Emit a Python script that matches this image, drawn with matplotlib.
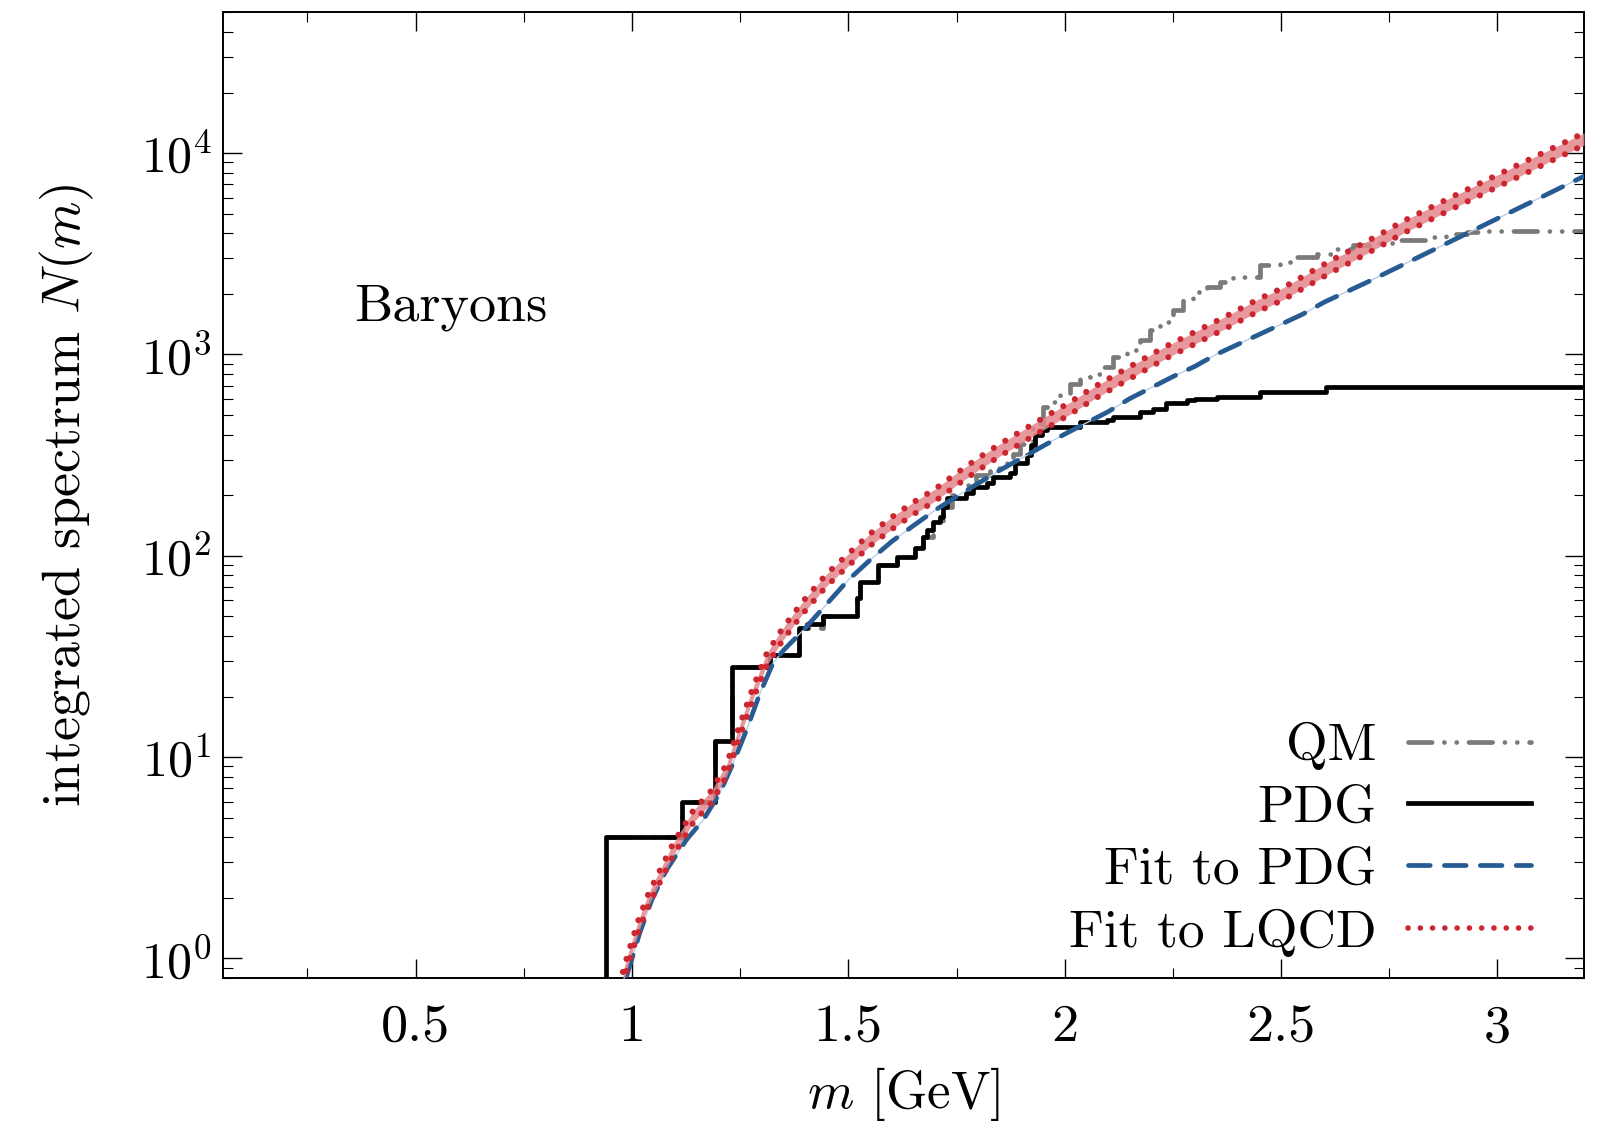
import numpy as np
import matplotlib
matplotlib.use('Agg')
import matplotlib.pyplot as plt
from matplotlib.lines import Line2D
from matplotlib.ticker import MultipleLocator, FuncFormatter

plt.rcParams['font.family'] = 'cmr10'
plt.rcParams['mathtext.fontset'] = 'cm'
plt.rcParams['axes.formatter.use_mathtext'] = True
plt.rcParams['axes.unicode_minus'] = False

# PDG baryon states: mass where each step starts, cumulative count after it
pdg_m = [0.939, 1.115, 1.193, 1.232, 1.318, 1.387, 1.405, 1.442, 1.519, 1.527,
         1.569, 1.612, 1.654, 1.673, 1.681, 1.696, 1.712, 1.719, 1.727, 1.773,
         1.789, 1.820, 1.835, 1.873, 1.885, 1.912, 1.923, 1.931, 1.947, 1.958,
         2.035, 2.097, 2.112, 2.174, 2.205, 2.235, 2.282, 2.300, 2.351, 2.451,
         2.605]
pdg_N = [4, 6, 12, 28, 32, 44, 46, 50, 62, 74,
         90, 99, 109, 124, 134, 148, 156, 175, 193, 204,
         220, 229, 247, 257, 288, 316, 355, 397, 421, 437,
         462, 472, 490, 519, 539, 571, 593, 604, 615, 652,
         690]

# quark model spectrum
qm_m = [0.939, 1.115, 1.193, 1.232, 1.318, 1.387, 1.442, 1.519, 1.527, 1.569,
        1.612, 1.654, 1.673, 1.696, 1.719, 1.740, 1.775, 1.796, 1.827, 1.866,
        1.881, 1.896, 1.927, 1.950, 1.966, 1.989, 2.012, 2.035, 2.058, 2.081,
        2.112, 2.143, 2.174, 2.197, 2.220, 2.251, 2.274, 2.297, 2.328, 2.359,
        2.389, 2.451, 2.497, 2.536, 2.582, 2.620, 2.667, 2.713, 2.774, 2.836,
        2.882, 2.929, 2.975, 3.200]
qm_N = [4, 6, 12, 28, 32, 44, 50, 62, 74, 90,
        99, 110, 124, 148, 175, 200, 225, 252, 272, 288,
        322, 361, 454, 549, 581, 640, 717, 773, 804, 867,
        972, 1049, 1175, 1318, 1449, 1656, 1857, 2042, 2162, 2290,
        2424, 2768, 2877, 3048, 3165, 3352, 3483, 3575, 3685, 3826,
        3947, 4052, 4085, 4085]

# fit to PDG
fpdg_m = [0.988, 1.018, 1.046, 1.080, 1.126, 1.165, 1.203, 1.234, 1.265, 1.296,
          1.326, 1.350, 1.400, 1.450, 1.500, 1.550, 1.600, 1.650, 1.700, 1.750,
          1.800, 1.850, 1.900, 1.950, 2.000, 2.050, 2.100, 2.150, 2.200, 2.250,
          2.300, 2.350, 2.400, 2.500, 2.550, 2.600, 2.700, 2.800, 2.900, 3.000,
          3.100, 3.200]
fpdg_N = [0.82, 1.34, 1.96, 2.76, 3.89, 4.89, 6.64, 9.35, 13.7, 20.8,
          29.3, 33.9, 43.6, 57.6, 75.9, 95.2, 117.6, 141, 168, 197,
          229, 266, 305, 351, 402, 457, 519, 603, 684, 776,
          871, 1000, 1122, 1412, 1585, 1820, 2291, 2917, 3715, 4732,
          6026, 7674]

# fit to lattice QCD (central values) and band half-width in decades
flqcd_m = [0.979, 0.991, 1.015, 1.038, 1.061, 1.095, 1.142, 1.184, 1.219, 1.250,
           1.280, 1.311, 1.342, 1.373, 1.400, 1.450, 1.500, 1.550, 1.600, 1.650,
           1.700, 1.750, 1.800, 1.850, 1.900, 1.958, 2.012, 2.066, 2.120, 2.174,
           2.228, 2.282, 2.336, 2.389, 2.447, 2.505, 2.559, 2.613, 2.671, 2.728,
           2.782, 2.844, 2.898, 3.200]
flqcd_N = [0.80, 0.99, 1.45, 1.96, 2.47, 3.47, 5.08, 6.38, 8.66, 13.7,
           20.8, 30.4, 38.9, 48.1, 57.0, 75.9, 95.5, 120, 145, 172,
           200, 240, 285, 335, 389, 462, 540, 640, 745, 867,
           1009, 1153, 1318, 1507, 1754, 2004, 2333, 2716, 3162, 3681,
           4285, 4989, 5702, 11750]
lqcd_halfwidth = 0.03

xlim = (0.054, 3.2)
ylim = (0.8, 5e4)

grey = '#7a7a7a'
blue = '#275c93'
red = '#cc2630'
qm_style = (0, (5.0, 2.6, 0.01, 2.6, 0.01, 2.6))
fit_style = (0, (4.6, 3.0))
dot_style = (0, (0.01, 2.2))

fig = plt.figure(figsize=(16.13, 11.28), dpi=100)
ax = fig.add_axes([0.138, 0.133, 0.844, 0.856])

# PDG staircase, starting from below the axis
px = np.r_[pdg_m[0], pdg_m, xlim[1]]
py = np.r_[0.1, pdg_N, pdg_N[-1]]
ax.step(px, py, where='post', color='black', lw=3.4, zorder=2)

qx = np.r_[qm_m, xlim[1]]
qy = np.r_[qm_N, qm_N[-1]]
ax.step(qx, qy, where='post', color=grey, lw=3.4, ls=qm_style,
        dash_capstyle='round', zorder=1.5)

ax.plot(fpdg_m, fpdg_N, color='#b9cfe6', lw=1.0, zorder=4)
ax.plot(fpdg_m, fpdg_N, color=blue, lw=3.4, ls=fit_style,
        dash_capstyle='round', zorder=4)

lq = np.array(flqcd_N)
lo = lq * 10 ** (-lqcd_halfwidth)
hi = lq * 10 ** lqcd_halfwidth
ax.fill_between(flqcd_m, lo, hi, color='#e3868c', alpha=0.85, lw=0, zorder=5)
for edge in (lo, hi):
    ax.plot(flqcd_m, edge, color=red, lw=4.4, ls=dot_style,
            dash_capstyle='round', zorder=6)

ax.set_yscale('log')
ax.set_xlim(*xlim)
ax.set_ylim(*ylim)
ax.xaxis.set_major_locator(MultipleLocator(0.5))
ax.xaxis.set_minor_locator(MultipleLocator(0.25))
ax.xaxis.set_major_formatter(FuncFormatter(lambda v, p: '%g' % v))

ax.tick_params(which='both', direction='in', top=True, right=True)
ax.tick_params(which='major', length=14, width=1.0)
ax.tick_params(which='minor', length=7, width=0.8)
ax.tick_params(axis='x', pad=19, labelsize=39)
ax.tick_params(axis='y', pad=8, labelsize=36)
for s in ax.spines.values():
    s.set_linewidth(1.4)

ax.set_xlabel(r'$m$ [GeV]', fontsize=38, labelpad=10)
ax.set_ylabel(r'integrated spectrum $N(m)$', fontsize=39, labelpad=32)
ax.text(0.097, 0.681, 'Baryons', transform=ax.transAxes, fontsize=39,
        ha='left', va='baseline')

handles = [
    Line2D([], [], color=grey, lw=3.4, ls=qm_style, dash_capstyle='round'),
    Line2D([], [], color='black', lw=3.4),
    Line2D([], [], color=blue, lw=3.4, ls=fit_style, dash_capstyle='round'),
    Line2D([], [], color=red, lw=4.0, ls=dot_style, dash_capstyle='round'),
]
ax.legend(handles, ['QM', 'PDG', 'Fit to PDG', 'Fit to LQCD'],
          loc='lower right', bbox_to_anchor=(0.977, 0.0),
          frameon=False, fontsize=38.5, markerfirst=False,
          handlelength=2.3, handletextpad=0.6, labelspacing=0.27,
          borderaxespad=0.0)

fig.savefig('out.png', dpi=100)
